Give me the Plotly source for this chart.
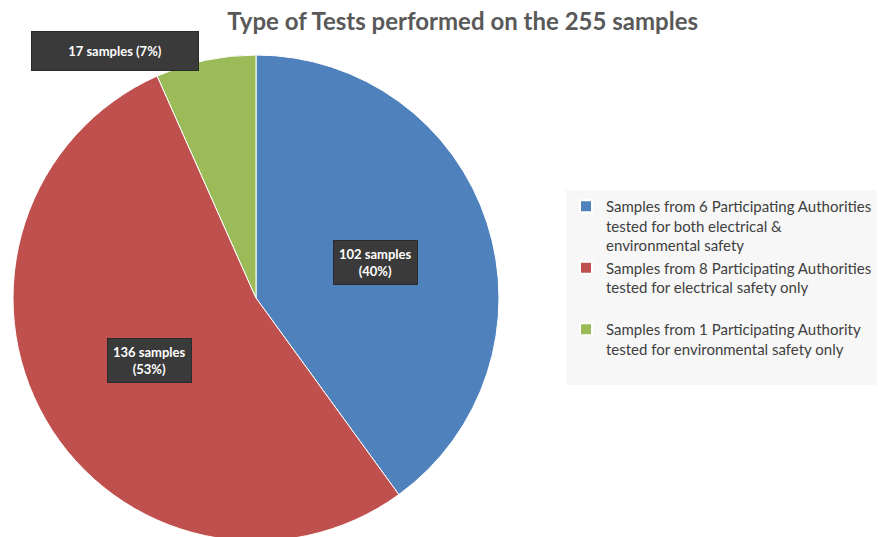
import plotly.graph_objects as go

title = "Type of Tests performed on the 255 samples"
labels = [
    "Samples from 6 Participating Authorities<br>tested for both electrical &<br>environmental safety",
    "Samples from 8 Participating Authorities<br>tested for electrical safety only<br> ",
    "Samples from 1 Participating Authority<br>tested for environmental safety only<br> ",
]
samples = [102, 136, 17]
colors = ["#4F81BD", "#C0504D", "#9BBB59"]

total = sum(samples)
pct = [round(100 * s / total) for s in samples]

W, H = 878, 560  # a bit taller than the window so the pie runs off the bottom like the original

fig = go.Figure()
fig.add_trace(go.Pie(
    labels=labels,
    values=samples,
    sort=False,
    direction="clockwise",
    rotation=0,
    textinfo="none",
    hoverinfo="label+value+percent",
    marker=dict(colors=colors, line=dict(color="white", width=1)),
    domain=dict(x=[13 / W, 499 / W], y=[1 - 541 / H, 1 - 55 / H]),
))

# data label boxes (pixel centres from the top-left)
box_px = [(375, 262), (149, 360), (115, 51)]
for i, (px, py) in enumerate(box_px):
    if i == 2:
        txt = f"{samples[i]} samples ({pct[i]}%)"
        extra = dict(width=164, height=36)
    else:
        txt = f"{samples[i]} samples<br>({pct[i]}%)"
        extra = dict(borderpad=5)
    fig.add_annotation(
        x=px / W, y=1 - py / H, xref="paper", yref="paper", text=f"<b>{txt}</b>",
        xanchor="center", yanchor="middle",
        showarrow=False, bgcolor="#3a3a3a", bordercolor="#2a2a2a", borderwidth=1,
        font=dict(family="Lato", size=13, color="white"), **extra)

fig.update_layout(
    width=W, height=H,
    margin=dict(l=0, r=0, t=0, b=0),
    paper_bgcolor="white",
    title=dict(text=f"<b>{title}</b>", x=0.527, xanchor="center", y=1 - 22 / H, yanchor="middle",
               font=dict(family="Lato", size=24, color="#595959")),
    legend=dict(x=566 / W, y=1 - 190 / H, xanchor="left", yanchor="top", valign="top",
                bgcolor="#f7f7f7", font=dict(family="Lato", size=15, color="#404040"),
                itemsizing="constant"),
)

fig.write_html("out.html", config={"displayModeBar": False},
               post_script="document.body.style.margin='0';document.body.style.overflow='hidden';")
